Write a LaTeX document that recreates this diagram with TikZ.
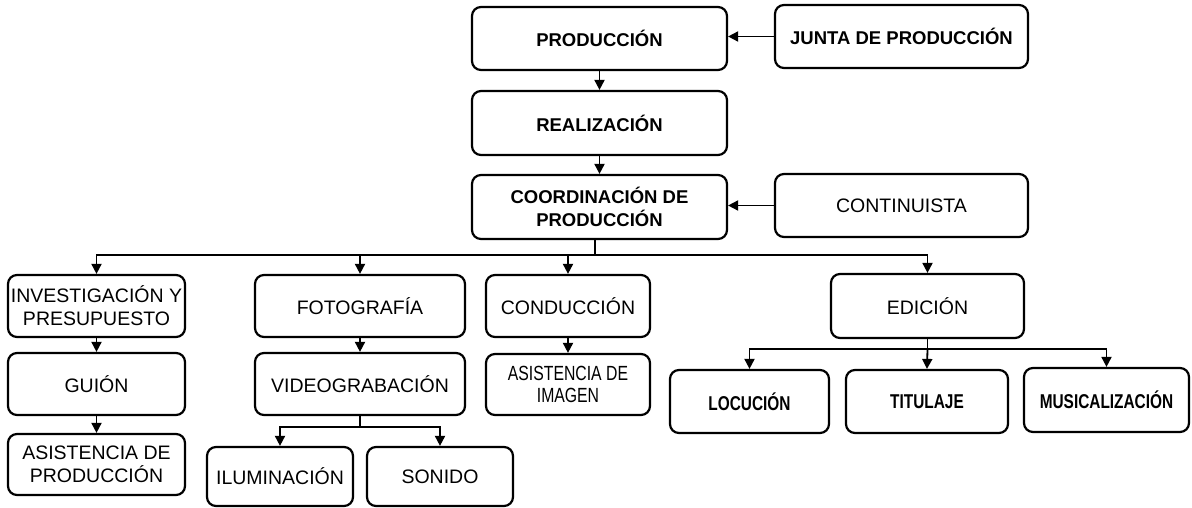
\documentclass[tikz,border=0pt]{standalone}
\usepackage{fontspec}
\setmainfont{Liberation Sans}
\newfontfamily\narrowfont{Liberation Sans}[FakeStretch=0.77]
\usetikzlibrary{arrows.meta}

\tikzset{
  box/.style={draw, line width=2.2pt, rounded corners=9pt, align=center, inner sep=2pt,
    font=\fontsize{19.5}{23}\selectfont},
  topbox/.style={box, font=\fontsize{18.5}{23}\selectfont\bfseries},
  edbox/.style={box, font=\fontsize{20}{23}\selectfont\narrowfont\bfseries},
  narrowbox/.style={box, font=\fontsize{20.5}{22}\selectfont\narrowfont},
  arr/.style={line width=1.8pt, -{Triangle[length=10pt,width=10pt]}},
  ln/.style={line width=1.8pt}
}

\begin{document}
\begin{tikzpicture}[x=1pt,y=-1pt]
\useasboundingbox (0,0) rectangle (1192,508);

\node[topbox, minimum width=255, minimum height=63] (prod) at (599.5,38.5) {PRODUCCIÓN};
\node[topbox, minimum width=253, minimum height=63] (junta) at (901.5,36.5) {JUNTA DE PRODUCCIÓN};
\node[topbox, minimum width=255, minimum height=64] (real) at (599.5,123) {REALIZACIÓN};
\node[topbox, minimum width=255, minimum height=64] (coord) at (599.5,207) {COORDINACIÓN DE\\PRODUCCIÓN};
\node[box, minimum width=253, minimum height=63] (cont) at (901.5,205.5) {CONTINUISTA};

\node[box, minimum width=177, minimum height=62] (inv) at (96.5,306) {INVESTIGACIÓN Y\\PRESUPUESTO};
\node[box, minimum width=177, minimum height=62] (guion) at (96.5,384) {GUIÓN};
\node[box, minimum width=177, minimum height=61] (asprod) at (96.5,464.5) {ASISTENCIA DE\\PRODUCCIÓN};

\node[box, minimum width=210, minimum height=62] (foto) at (360,306) {FOTOGRAFÍA};
\node[box, minimum width=210, minimum height=62] (video) at (360,384) {VIDEOGRABACIÓN};
\node[box, minimum width=146, minimum height=59] (ilum) at (280,476.5) {ILUMINACIÓN};
\node[box, minimum width=146, minimum height=59] (son) at (440,476.5) {SONIDO};

\node[box, minimum width=164, minimum height=62] (cond) at (568,306) {CONDUCCIÓN};
\node[narrowbox, minimum width=164, minimum height=61] (asimg) at (568,384.5) {ASISTENCIA DE\\IMAGEN};

\node[box, minimum width=193, minimum height=64] (edic) at (927.5,306) {EDICIÓN};
\node[edbox, minimum width=159, minimum height=63] (loc) at (749.5,401.5) {LOCUCIÓN};
\node[edbox, minimum width=162, minimum height=63] (tit) at (927,401.5) {TITULAJE};
\node[edbox, minimum width=165, minimum height=64] (mus) at (1106.5,400) {MUSICALIZACIÓN};

\coordinate (bus) at (595,255);
\coordinate (vsplit) at (360,427);
\coordinate (esplit) at (927.5,349);

\draw[arr] (junta.west) -- (junta.west -| prod.east);
\draw[arr] (cont.west) -- (cont.west -| coord.east);
\draw[arr] (prod) -- (real);
\draw[arr] (real) -- (coord);

\draw[ln] (coord.south -| bus) -- (bus);
\draw[arr] (bus) -| (inv.north);
\draw[arr] (bus) -| (foto.north);
\draw[arr] (bus) -| (cond.north);
\draw[arr] (bus) -| (edic.north);

\draw[arr] (inv) -- (guion);
\draw[arr] (guion) -- (asprod);
\draw[arr] (foto) -- (video);
\draw[arr] (cond) -- (asimg);

\draw[ln] (video.south) -- (vsplit);
\draw[arr] (vsplit) -| (ilum.north);
\draw[arr] (vsplit) -| (son.north);

\draw[ln] (edic.south) -- (esplit);
\draw[arr] (esplit) -| (loc.north);
\draw[arr] (esplit) -- (tit.north);
\draw[arr] (esplit) -| (mus.north);

\end{tikzpicture}
\end{document}
